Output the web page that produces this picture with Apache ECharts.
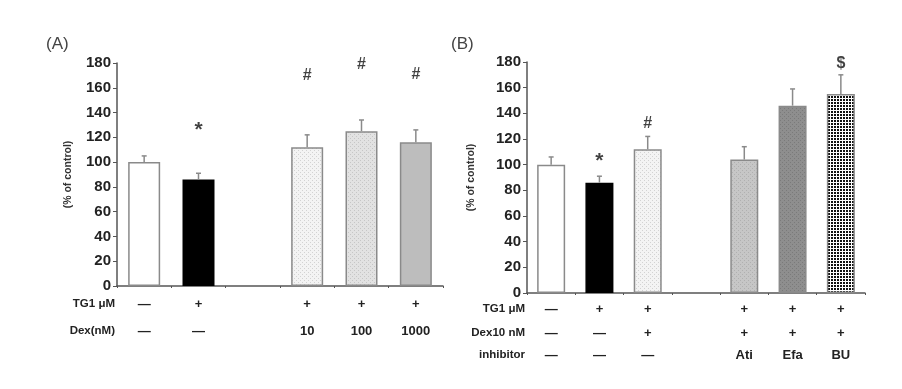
<!DOCTYPE html>
<html>
<head>
<meta charset="utf-8">
<script src="https://cdn.jsdelivr.net/npm/echarts@6/dist/echarts.min.js"></script>
<style>
  * { margin: 0; padding: 0; }
  body { background: #fff; }
  #main { width: 902px; height: 389px; }
</style>
</head>
<body>
<div id="main"></div>
<script>
// ---- data ----
// panel (A)
var tgA = ['—', '+', '', '+', '+', '+'];
var dexA = ['—', '—', '', '10', '100', '1000'];
var valsA = [100, 86, null, 112, 125, 116];
var errA = [5, 5, null, 10, 9, 10];
var signA = ['', '*', '', '#', '#', '#'];
var signYA = [null, 126, null, 170, 179, 171];

// panel (B)
var tgB = ['—', '+', '+', '', '+', '+', '+'];
var dexB = ['—', '—', '+', '', '+', '+', '+'];
var inhB = ['—', '—', '—', '', 'Ati', 'Efa', 'BU'];
var valsB = [100, 86, 112, null, 104, 146, 155];
var errB = [6, 5, 10, null, 10, 13, 15];
var signB = ['', '*', '#', '', '', '', '$'];
var signYB = [null, 103, 132, null, null, null, 179];

var yTicks = [0, 20, 40, 60, 80, 100, 120, 140, 160, 180];

// ---- fill patterns ----
function pattern(size, bg, fg, dots) {
  var c = document.createElement('canvas');
  c.width = size; c.height = size;
  var ctx = c.getContext('2d');
  ctx.fillStyle = bg; ctx.fillRect(0, 0, size, size);
  ctx.fillStyle = fg;
  dots.forEach(function (d) { ctx.fillRect(d[0], d[1], d[2], d[3]); });
  return { image: c, repeat: 'repeat' };
}
var lightDots = pattern(4, '#f3f3f3', '#d2d2d2', [[0, 0, 1, 1], [2, 2, 1, 1]]);
var midDots = pattern(4, '#e2e2e2', '#c6c6c6', [[0, 0, 1, 1], [2, 2, 1, 1]]);
var greyDots = pattern(4, '#c6c6c6', '#b0b0b0', [[0, 0, 1, 1], [2, 2, 1, 1]]);
var darkDots = pattern(4, '#8e8e8e', '#7a7a7a', [[0, 0, 1, 1], [2, 2, 1, 1]]);
var checker = pattern(3, '#ffffff', '#111111', [[0, 0, 2, 2]]);

var fillA = ['#ffffff', '#000000', null, lightDots, midDots, '#bdbdbd'];
var fillB = ['#ffffff', '#000000', lightDots, null, greyDots, darkDots, checker];

var font = '"Liberation Sans", Arial, sans-serif';
var axisColor = '#555';

function barData(vals, fills) {
  return vals.map(function (v, i) {
    if (v == null) return '-';
    return {
      value: v,
      itemStyle: {
        color: fills[i],
        borderColor: i === 1 ? '#000' : '#8a8a8a',
        borderWidth: 1.5
      }
    };
  });
}

function errData(vals, errs) {
  var out = [];
  vals.forEach(function (v, i) { if (v != null) out.push([i, v, errs[i]]); });
  return out;
}

function signData(signs, ys) {
  var out = [];
  signs.forEach(function (s, i) {
    if (!s) return;
    out.push({ value: [i, ys[i], s], label: { fontSize: s === '*' ? 21 : 16 } });
  });
  return out;
}

function errorSeries(xi, yi, data) {
  return {
    type: 'custom',
    xAxisIndex: xi,
    yAxisIndex: yi,
    data: data,
    z: 5,
    renderItem: function (params, api) {
      var x = api.value(0), v = api.value(1), e = api.value(2);
      var p0 = api.coord([x, v]);
      var p1 = api.coord([x, v + e]);
      var st = { stroke: '#8a8a8a', lineWidth: 1.5 };
      return {
        type: 'group',
        children: [
          { type: 'line', shape: { x1: p0[0], y1: p0[1], x2: p1[0], y2: p1[1] }, style: st },
          { type: 'line', shape: { x1: p1[0] - 2.5, y1: p1[1], x2: p1[0] + 2.5, y2: p1[1] }, style: st }
        ]
      };
    }
  };
}

function signSeries(xi, yi, data) {
  return {
    type: 'scatter',
    xAxisIndex: xi,
    yAxisIndex: yi,
    symbolSize: 1,
    itemStyle: { color: 'rgba(0,0,0,0)' },
    data: data,
    label: {
      show: true,
      position: 'inside',
      formatter: function (p) { return p.value[2]; },
      fontFamily: font,
      fontWeight: 'bold',
      fontSize: 16,
      color: '#111'
    }
  };
}

function rowAxis(grid, labels, name, offset) {
  return {
    type: 'category',
    gridIndex: grid,
    position: 'bottom',
    offset: offset,
    data: labels,
    axisLine: { show: false },
    axisTick: { show: false },
    axisLabel: {
      margin: 0,
      verticalAlign: 'middle',
      fontFamily: font,
      fontWeight: 'bold',
      fontSize: 13,
      color: '#222',
      interval: 0
    },
    name: name,
    nameLocation: 'start',
    nameGap: 2,
    nameTextStyle: {
      fontFamily: font,
      fontWeight: 'bold',
      fontSize: 11.5,
      color: '#222',
      align: 'right',
      verticalAlign: 'middle'
    }
  };
}

function mainX(grid, n) {
  var cats = [];
  for (var i = 0; i < n; i++) cats.push(String(i));
  return {
    type: 'category',
    gridIndex: grid,
    data: cats,
    axisLine: { lineStyle: { color: axisColor, width: 1.5 } },
    axisTick: { show: true, length: 2, lineStyle: { color: axisColor } },
    axisLabel: { show: false }
  };
}

function mainY(grid, gap) {
  return {
    type: 'value',
    gridIndex: grid,
    min: 0,
    max: 180,
    interval: 20,
    splitLine: { show: false },
    axisLine: { show: true, lineStyle: { color: axisColor, width: 1.5 } },
    axisTick: { show: true, length: 4, lineStyle: { color: axisColor } },
    axisLabel: {
      fontFamily: font,
      fontWeight: 'bold',
      fontSize: 15,
      color: '#222',
      margin: 6,
      formatter: function (v) { return yTicks.indexOf(v) >= 0 ? String(v) : ''; }
    },
    name: '(% of control)',
    nameLocation: 'middle',
    nameGap: gap,
    nameTextStyle: { fontFamily: font, fontWeight: 'bold', fontSize: 10.5, color: '#333' }
  };
}

var chart = echarts.init(document.getElementById('main'), null, { renderer: 'canvas' });
chart.setOption({
  animation: false,
  backgroundColor: '#fff',
  title: [
    { text: '(A)', left: 41, top: 31, textStyle: { fontFamily: font, fontWeight: 'normal', fontSize: 17, color: '#444' } },
    { text: '(B)', left: 446, top: 31, textStyle: { fontFamily: font, fontWeight: 'normal', fontSize: 17, color: '#444' } }
  ],
  grid: [
    { left: 117, right: 459, top: 63, bottom: 103 },
    { left: 527, right: 37, top: 62, bottom: 96 }
  ],
  xAxis: [
    mainX(0, valsA.length),
    mainX(1, valsB.length),
    rowAxis(0, tgA, 'TG1 μM', 18),
    rowAxis(0, dexA, 'Dex(nM)', 45),
    rowAxis(1, tgB, 'TG1 μM', 16),
    rowAxis(1, dexB, 'Dex10 nM', 40),
    rowAxis(1, inhB, 'inhibitor', 62)
  ],
  yAxis: [mainY(0, 43), mainY(1, 50)],
  series: [
    { type: 'bar', xAxisIndex: 0, yAxisIndex: 0, barWidth: 32, data: barData(valsA, fillA) },
    { type: 'bar', xAxisIndex: 1, yAxisIndex: 1, barWidth: 28, data: barData(valsB, fillB) },
    errorSeries(0, 0, errData(valsA, errA)),
    errorSeries(1, 1, errData(valsB, errB)),
    signSeries(0, 0, signData(signA, signYA)),
    signSeries(1, 1, signData(signB, signYB))
  ]
});
</script>
</body>
</html>
